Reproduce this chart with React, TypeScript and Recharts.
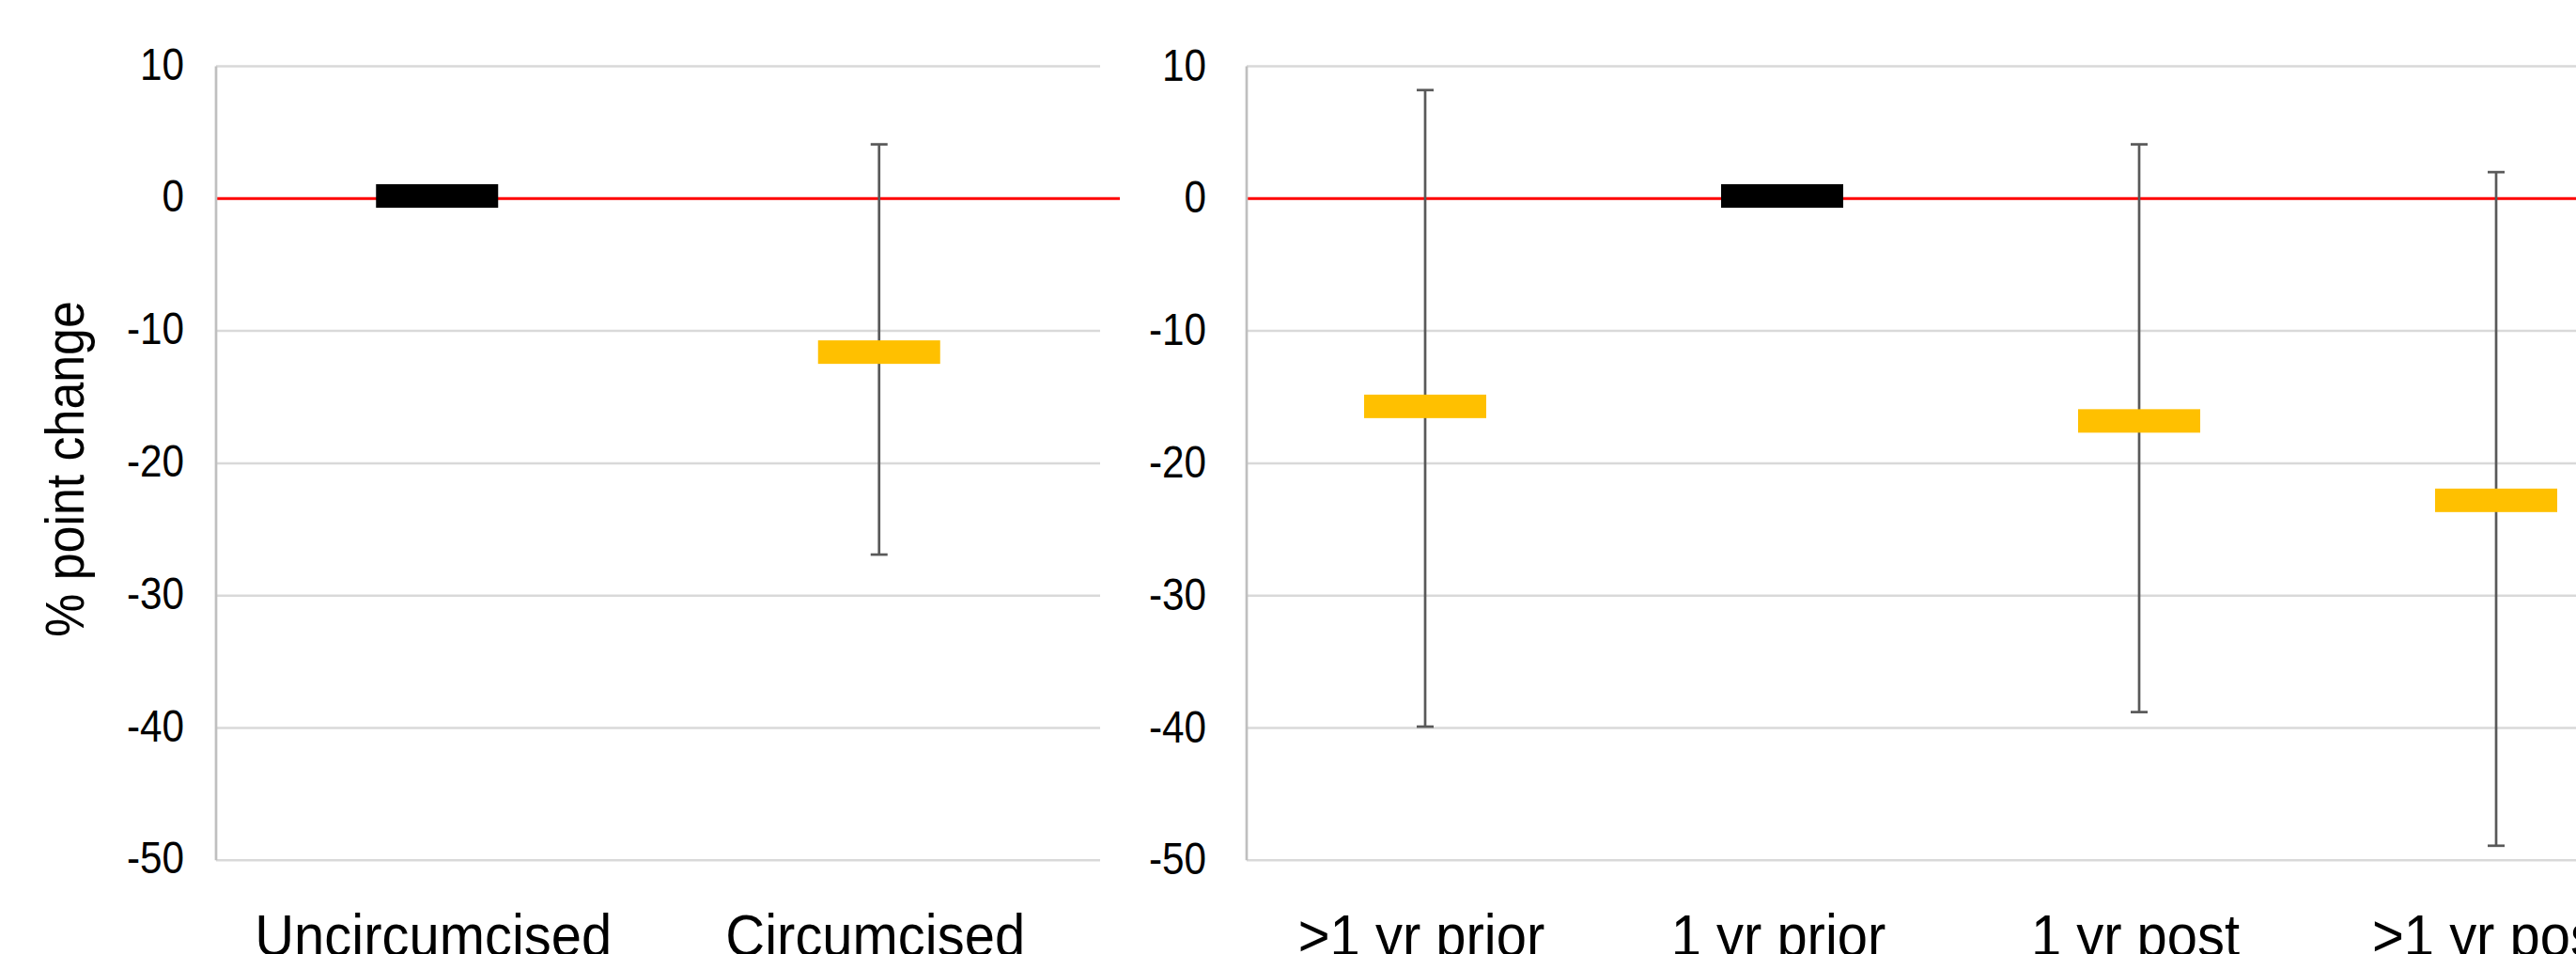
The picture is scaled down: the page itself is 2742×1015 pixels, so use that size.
import React from 'react';
import { ComposedChart, Line, XAxis, YAxis, CartesianGrid, ReferenceLine, ErrorBar } from 'recharts';

// ---- data ----
const leftCategories = ['Uncircumcised', 'Circumcised'];
const leftReference: (number | null)[] = [0.2, null];
const leftEstimate: (number | null)[] = [null, -11.6];
const leftLow: (number | null)[] = [null, -26.9];
const leftHigh: (number | null)[] = [null, 4.1];

const rightCategories = ['>1 yr prior', '1 yr prior', '1 yr post', '>1 yr post'];
const rightReference: (number | null)[] = [null, 0.2, null, null];
const rightEstimate: (number | null)[] = [-15.7, null, -16.8, -22.8];
const rightLow: (number | null)[] = [-39.9, null, -38.8, -48.9];
const rightHigh: (number | null)[] = [8.2, null, 4.1, 2.0];

const yTicks = [10, 0, -10, -20, -30, -40, -50];
const yDomain: [number, number] = [-50, 10];
const yAxisTitle = '% point change';

function buildRows(
  cats: string[],
  ref: (number | null)[],
  est: (number | null)[],
  low: (number | null)[],
  high: (number | null)[]
) {
  return cats.map((cat, i) => {
    const e = est[i];
    const l = low[i];
    const h = high[i];
    return {
      cat,
      ref: ref[i],
      est: e,
      err: e != null && l != null && h != null ? [e - l, h - e] : null,
    };
  });
}

const leftRows = buildRows(leftCategories, leftReference, leftEstimate, leftLow, leftHigh);
const rightRows = buildRows(rightCategories, rightReference, rightEstimate, rightLow, rightHigh);

// ---- styles ----
const FONT = '"Liberation Sans", Arial, sans-serif';
const BLACK = '#000000';
const YELLOW = '#FFC000';
const ERR = '#595959';
const GRID = '#d9d9d9';
const AXIS = '#bfbfbf';
const RED = '#ff0000';

const makeMarker = (fill: string) => (props: any) => {
  const { cx, cy, value, index } = props;
  if (value == null || cx == null || cy == null || isNaN(cy)) return <g key={`m-${index}`} />;
  return <rect key={`m-${index}`} x={cx - 65} y={cy - 12.5} width={130} height={25} fill={fill} />;
};

const makeYTick = (shift: number) => (props: any) => {
  const { x, y, payload } = props;
  return (
    <text
      transform={`translate(${x},${y + 17 + shift}) scale(0.88,1)`}
      textAnchor="end"
      fontFamily={FONT}
      fontSize={48}
      fill="#000"
    >
      {payload.value}
    </text>
  );
};

const XTick = (props: any) => {
  const { x, y, payload } = props;
  return (
    <text
      transform={`translate(${x - 4},${y + 102}) scale(0.92,1)`}
      textAnchor="middle"
      fontFamily={FONT}
      fontSize={63}
      fill="#000"
    >
      {payload.value}
    </text>
  );
};

const YTitle = () => (
  <text
    transform="translate(89,499) rotate(-90) scale(0.91,1)"
    textAnchor="middle"
    fontFamily={FONT}
    fontSize={57}
    fill="#000"
  >
    {yAxisTitle}
  </text>
);

function Panel({
  rows,
  width,
  yAxisWidth,
  marginRight,
  sidePad,
  tickGap,
  tickShift,
  redExtend,
  showTitle,
}: {
  rows: any[];
  width: number;
  yAxisWidth: number;
  marginRight: number;
  sidePad: number;
  tickGap: number;
  tickShift: number;
  redExtend: number;
  showTitle: boolean;
}) {
  return (
    <ComposedChart
      width={width}
      height={1015}
      data={rows}
      margin={{ top: 70.5, right: marginRight, bottom: 0, left: 0 }}
    >
      <CartesianGrid vertical={false} stroke={GRID} strokeWidth={2.5} />
      <XAxis
        dataKey="cat"
        axisLine={false}
        tickLine={false}
        tickSize={0}
        tickMargin={0}
        height={99.7}
        interval={0}
        padding={{ left: sidePad, right: sidePad }}
        tick={<XTick />}
      />
      <YAxis
        type="number"
        domain={yDomain}
        ticks={yTicks}
        width={yAxisWidth}
        axisLine={{ stroke: AXIS, strokeWidth: 2.7 }}
        tickLine={false}
        tickSize={0}
        tickMargin={tickGap}
        tick={makeYTick(tickShift)}
        label={showTitle ? { value: yAxisTitle, content: () => <YTitle /> } : undefined}
      />
      <ReferenceLine
        y={0}
        stroke={RED}
        strokeWidth={3}
        shape={(p: any) => (
          <line x1={p.x1} y1={p.y1} x2={p.x2 + redExtend} y2={p.y2} stroke={RED} strokeWidth={3} />
        )}
      />
      <Line
        dataKey="ref"
        stroke="none"
        dot={makeMarker(BLACK)}
        activeDot={false}
        isAnimationActive={false}
      />
      <Line
        dataKey="est"
        stroke="none"
        dot={makeMarker(YELLOW)}
        activeDot={false}
        isAnimationActive={false}
      />
      <Line dataKey="est" stroke="none" dot={false} activeDot={false} isAnimationActive={false}>
        <ErrorBar dataKey="err" width={9} stroke={ERR} strokeWidth={2.7} />
      </Line>
    </ComposedChart>
  );
}

export default function App() {
  return (
    <div
      style={{
        position: 'fixed',
        left: 0,
        top: 0,
        width: 2742,
        height: 1015,
        overflow: 'hidden',
        background: '#fff',
      }}
    >
      <div style={{ position: 'absolute', left: 0, top: 0 }}>
        <Panel
          rows={leftRows}
          width={1200}
          yAxisWidth={230}
          marginRight={29}
          sidePad={235.25}
          tickGap={34}
          tickShift={-3}
          redExtend={21}
          showTitle={true}
        />
      </div>
      <div style={{ position: 'absolute', left: 1180, top: 0 }}>
        <Panel
          rows={rightRows}
          width={1700}
          yAxisWidth={147}
          marginRight={33}
          sidePad={190}
          tickGap={43}
          tickShift={-2}
          redExtend={0}
          showTitle={false}
        />
      </div>
    </div>
  );
}
